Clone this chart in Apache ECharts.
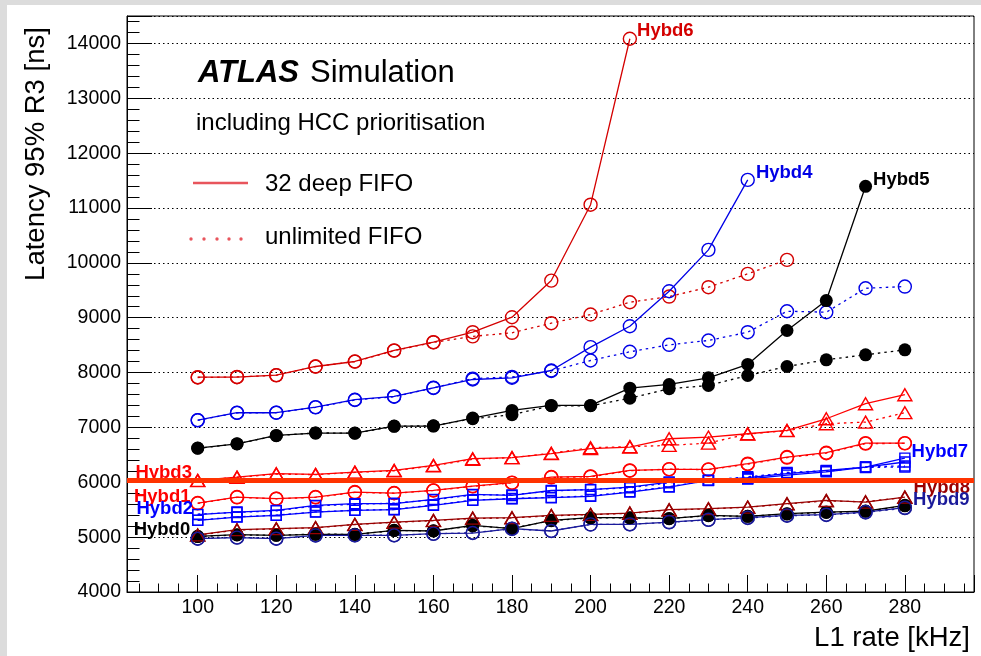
<!DOCTYPE html>
<html>
<head>
<meta charset="utf-8">
<title>Latency 95% R3</title>
<script src="https://cdn.jsdelivr.net/npm/echarts@6/dist/echarts.min.js"></script>
<style>
  html, body { margin: 0; padding: 0; width: 981px; height: 656px; background: #dcdcdc; overflow: hidden; }
  #chart { position: absolute; left: 7px; top: 5px; width: 974px; height: 651px; background: #ffffff; }
</style>
</head>
<body>
<div id="chart"></div>
<script>
// L1 rate [kHz]
const rates = [100, 110, 120, 130, 140, 150, 160, 170, 180, 190, 200, 210, 220, 230, 240, 250, 260, 270, 280];

// latency 95% R3 [ns], 32 deep FIFO (solid) / unlimited FIFO (dotted)
const hybd0Fifo32 = [5015, 5045, 5033, 5051, 5051, 5124, 5112, 5215, 5154, 5306, 5355, 5355, 5337, 5397, 5379, 5427, 5457, 5476, 5580];
const hybd0Unlim  = [5010, 5040, 5035, 5055, 5050, 5120, 5115, 5205, 5160, 5300, 5350, 5350, 5340, 5390, 5380, 5420, 5450, 5470, 5570];
const hybd1Fifo32 = [5622, 5731, 5701, 5731, 5822, 5804, 5852, 5931, 5993, 6095, 6108, 6217, 6235, 6235, 6339, 6460, 6539, 6714, 6714];
const hybd1Unlim  = [5615, 5725, 5700, 5725, 5815, 5800, 5850, 5925, 5990, 6090, 6100, 6210, 6240, 6230, 6330, 6450, 6530, 6705, 6710];
const hybd2Fifo32 = [5410, 5457, 5488, 5580, 5610, 5610, 5688, 5780, 5760, 5850, 5865, 5913, 6004, 6035, 6084, 6157, 6217, 6277, 6370];
const hybd2Unlim  = [5420, 5450, 5480, 5570, 5600, 5620, 5680, 5770, 5770, 5840, 5870, 5900, 5990, 6040, 6100, 6170, 6200, 6280, 6300];
const hybd3Fifo32 = [6035, 6095, 6157, 6144, 6186, 6217, 6308, 6430, 6448, 6521, 6612, 6642, 6794, 6824, 6885, 6945, 7158, 7432, 7596];
const hybd3Unlim  = [6030, 6090, 6150, 6140, 6180, 6210, 6300, 6420, 6450, 6530, 6630, 6650, 6672, 6714, 6880, 6940, 7067, 7097, 7268];
const hybd4Fifo32 = [7133, 7268, 7268, 7370, 7505, 7565, 7723, 7874, 7905, 8038, 8463, 8845, 9483, 10237, 11512];
const hybd4Unlim  = [7130, 7265, 7270, 7365, 7500, 7560, 7720, 7890, 7920, 8030, 8220, 8379, 8506, 8585, 8736, 9118, 9100, 9537, 9568];
const hybd5Fifo32 = [6623, 6702, 6855, 6897, 6897, 7024, 7024, 7170, 7310, 7401, 7401, 7716, 7783, 7905, 8148, 8767, 9313, 11395];
const hybd5Unlim  = [6620, 6700, 6850, 6900, 6895, 7020, 7030, 7160, 7232, 7395, 7395, 7534, 7705, 7765, 7947, 8111, 8233, 8324, 8415];
const hybd6Fifo32 = [7916, 7916, 7953, 8111, 8202, 8403, 8554, 8736, 9009, 9677, 11060, 14085];
const hybd6Unlim  = [7910, 7920, 7950, 8110, 8200, 8400, 8550, 8660, 8725, 8900, 9058, 9282, 9386, 9556, 9800, 10055];
const hybd7Fifo32 = [5306, 5366, 5397, 5457, 5488, 5500, 5580, 5670, 5700, 5719, 5743, 5822, 5913, 6035, 6060, 6130, 6190, 6277, 6440];
const hybd7Unlim  = [5310, 5370, 5400, 5460, 5490, 5505, 5585, 5675, 5705, 5725, 5750, 5830, 5920, 6030, 6070, 6180, 6210, 6270, 6280];
const hybd8Fifo32 = [5040, 5136, 5154, 5173, 5233, 5275, 5306, 5348, 5355, 5397, 5415, 5439, 5500, 5519, 5548, 5610, 5670, 5640, 5731];
const hybd8Unlim  = [5035, 5130, 5150, 5170, 5230, 5270, 5300, 5340, 5350, 5390, 5410, 5435, 5495, 5515, 5545, 5605, 5660, 5645, 5725];
const hybd9Fifo32 = [4972, 4991, 4972, 5033, 5033, 5033, 5064, 5075, 5154, 5112, 5233, 5233, 5275, 5318, 5355, 5397, 5409, 5457, 5537];
const hybd9Unlim  = [4975, 4995, 4975, 5030, 5035, 5035, 5060, 5080, 5150, 5115, 5230, 5235, 5270, 5315, 5350, 5390, 5405, 5450, 5530];

// the thick horizontal reference line
const limitNs = 6030;

const yTicks = { min: 4000, max: 14500, step: 1000 };
const xTicks = { min: 82, max: 297.6, step: 20 };

const FONT = "'Liberation Sans', Arial, Helvetica, sans-serif";

// marker look per hybrid (ROOT style markers)
const hybrids = [
  { name: 'Hybd0', color: '#000000', symbol: 'circle',   size: 13, filled: true,  solid: hybd0Fifo32, dotted: hybd0Unlim, label: { at: 'first', offset: [0, -6] } },
  { name: 'Hybd1', color: '#ff0000', symbol: 'circle',   size: 13, filled: false, solid: hybd1Fifo32, dotted: hybd1Unlim, label: { at: 'first', offset: [1, -6] } },
  { name: 'Hybd2', color: '#0000ff', symbol: 'rect',     size: 10, filled: false, solid: hybd2Fifo32, dotted: hybd2Unlim, label: { at: 'first', offset: [2, -6] } },
  { name: 'Hybd3', color: '#ff0000', symbol: 'triangle', size: [14, 12], filled: false, solid: hybd3Fifo32, dotted: hybd3Unlim, label: { at: 'first', offset: [3, -7] } },
  { name: 'Hybd4', color: '#0000e6', symbol: 'circle',   size: 13, filled: false, solid: hybd4Fifo32, dotted: hybd4Unlim, label: { at: 'last', offset: [0, -7] } },
  { name: 'Hybd5', color: '#000000', symbol: 'circle',   size: 13, filled: true,  solid: hybd5Fifo32, dotted: hybd5Unlim, label: { at: 'last', offset: [0, -6] } },
  { name: 'Hybd6', color: '#d40000', symbol: 'circle',   size: 13, filled: false, solid: hybd6Fifo32, dotted: hybd6Unlim, label: { at: 'last', offset: [-1, -8] } },
  { name: 'Hybd7', color: '#0000ff', symbol: 'rect',     size: 10, filled: false, solid: hybd7Fifo32, dotted: hybd7Unlim, label: { at: 'last', offset: [0, -6] } },
  { name: 'Hybd8', color: '#990000', symbol: 'triangle', size: [14, 12], filled: false, solid: hybd8Fifo32, dotted: hybd8Unlim, label: { at: 'last', offset: [0, -9] } },
  { name: 'Hybd9', color: '#1a1a9a', symbol: 'circle',   size: 13, filled: false, solid: hybd9Fifo32, dotted: hybd9Unlim, label: { at: 'last', offset: [0, -8] } }
];

function toPoints(values) {
  return values.map(function (v, i) { return [rates[i], v]; });
}

function makeSeries(h, values, dotted) {
  const data = toPoints(values);
  if (!dotted) {
    const idx = h.label.at === 'first' ? 0 : data.length - 1;
    data[idx] = {
      value: data[idx],
      label: {
        show: true,
        formatter: h.name,
        position: h.label.at === 'first' ? 'left' : 'right',
        distance: 1,
        offset: h.label.offset,
        color: h.color,
        fontFamily: FONT,
        fontWeight: 'bold',
        fontSize: 18.5
      }
    };
  }
  return {
    name: h.name + (dotted ? ' unlimited' : ' 32 deep'),
    type: 'line',
    data: data,
    symbol: h.symbol,
    symbolSize: h.size,
    showAllSymbol: true,
    lineStyle: { color: h.color, width: 1.3, type: dotted ? [2.5, 4] : 'solid' },
    itemStyle: {
      color: h.filled ? h.color : 'rgba(255,255,255,0)',
      borderColor: h.color,
      borderWidth: h.filled ? 0 : 1.4
    },
    label: { show: false },
    emphasis: { disabled: true },
    z: dotted ? 3 : 4
  };
}

const series = [];
hybrids.forEach(function (h) {
  series.push(makeSeries(h, h.dotted, true));
  series.push(makeSeries(h, h.solid, false));
});

series[0].markLine = {
  silent: true,
  symbol: ['none', 'none'],
  label: { show: false },
  lineStyle: { color: '#ff3300', width: 5, type: 'solid' },
  data: [{ yAxis: limitNs }],
  z: 10
};

const chart = echarts.init(document.getElementById('chart'), null, { renderer: 'canvas' });

chart.setOption({
  animation: false,
  backgroundColor: '#ffffff',
  textStyle: { fontFamily: FONT },
  grid: { left: 120, top: 11, right: 7, bottom: 64, show: true, borderColor: '#000', borderWidth: 1 },
  xAxis: {
    type: 'value',
    min: xTicks.min,
    max: xTicks.max,
    minInterval: xTicks.step,
    maxInterval: xTicks.step,
    axisLine: { lineStyle: { color: '#000', width: 1 } },
    axisTick: { inside: true, length: 17, lineStyle: { color: '#000' } },
    minorTick: { show: true, splitNumber: 4, length: 8.5, lineStyle: { color: '#000' } },
    axisLabel: {
      color: '#000', fontSize: 19.5, fontFamily: FONT, margin: 6,
      formatter: function (v) { return v % xTicks.step === 0 ? String(v) : ''; }
    },
    splitLine: { show: false }
  },
  yAxis: {
    type: 'value',
    min: yTicks.min,
    max: yTicks.max,
    interval: yTicks.step,
    axisLine: { show: true, lineStyle: { color: '#000', width: 1 } },
    axisTick: { show: true, inside: true, length: 25, lineStyle: { color: '#000' } },
    minorTick: { show: true, splitNumber: 5, length: 12.5, lineStyle: { color: '#000' } },
    axisLabel: {
      color: '#000', fontSize: 19.5, fontFamily: FONT, margin: 6,
      formatter: function (v) { return v % yTicks.step === 0 ? String(v) : ''; }
    },
    splitLine: { show: true, lineStyle: { color: '#000', width: 1, type: [1.5, 3] } }
  },
  graphic: [
    { type: 'text', x: 191, y: 68, style: { text: 'ATLAS', fontFamily: FONT, fontSize: 31, fontWeight: 'bold', fontStyle: 'italic', fill: '#000', verticalAlign: 'middle' } },
    { type: 'text', x: 303, y: 68, style: { text: 'Simulation', fontFamily: FONT, fontSize: 31, fill: '#000', verticalAlign: 'middle' } },
    { type: 'text', x: 189, y: 118, style: { text: 'including HCC prioritisation', fontFamily: FONT, fontSize: 24, fill: '#000', verticalAlign: 'middle' } },
    { type: 'line', shape: { x1: 186, y1: 178, x2: 241, y2: 178 }, style: { stroke: '#e8555c', lineWidth: 2.5 } },
    { type: 'text', x: 258, y: 179, style: { text: '32 deep FIFO', fontFamily: FONT, fontSize: 24, fill: '#000', verticalAlign: 'middle' } },
    { type: 'circle', shape: { cx: 184, cy: 234, r: 1.7 }, style: { fill: '#e8555c' } },
    { type: 'circle', shape: { cx: 197, cy: 234, r: 1.7 }, style: { fill: '#e8555c' } },
    { type: 'circle', shape: { cx: 210, cy: 234, r: 1.7 }, style: { fill: '#e8555c' } },
    { type: 'circle', shape: { cx: 222, cy: 234, r: 1.7 }, style: { fill: '#e8555c' } },
    { type: 'circle', shape: { cx: 234, cy: 234, r: 1.7 }, style: { fill: '#e8555c' } },
    { type: 'text', x: 258, y: 232, style: { text: 'unlimited FIFO', fontFamily: FONT, fontSize: 24, fill: '#000', verticalAlign: 'middle' } },
    // axis titles
    { type: 'text', x: 29, y: 149, rotation: Math.PI / 2, style: { text: 'Latency 95% R3 [ns]', fontFamily: FONT, fontSize: 27.5, fill: '#000', align: 'center', verticalAlign: 'middle' } },
    { type: 'text', x: 963, y: 633, style: { text: 'L1 rate [kHz]', fontFamily: FONT, fontSize: 27.5, fill: '#000', align: 'right', verticalAlign: 'middle' } }
  ],
  series: series
});
</script>
</body>
</html>
